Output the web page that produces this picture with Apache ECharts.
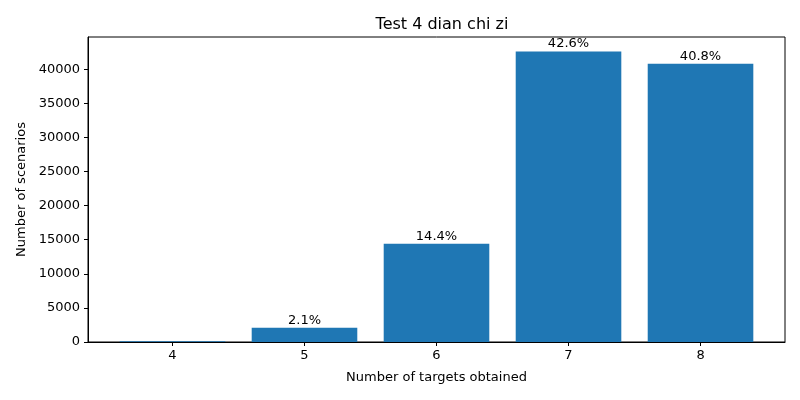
<!DOCTYPE html>
<html><head><meta charset="utf-8">
<script src="https://cdn.jsdelivr.net/npm/echarts@6/dist/echarts.min.js"></script>
<style>html,body{margin:0;padding:0;background:#fff}#c{width:800px;height:400px}</style>
</head><body><div id="c"></div>
<script>
const categories = [4, 5, 6, 7, 8];
const counts = [100, 2100, 14400, 42600, 40800];
const pctLabels = ['', '2.1%', '14.4%', '42.6%', '40.8%'];
const yTicks = [0, 5000, 10000, 15000, 20000, 25000, 30000, 35000, 40000];

const font = 'DejaVu Sans';
const chart = echarts.init(document.getElementById('c'));
chart.setOption({
  animation: false,
  title: { text: 'Test 4 dian chi zi', left: 437, top: 12, textAlign: 'center',
    textStyle: { fontFamily: font, fontSize: 16, fontWeight: 'normal', color: '#000' } },
  grid: { left: 88, right: 15, top: 37, bottom: 58, show: true, borderColor: '#000', borderWidth: 1 },
  xAxis: {
    type: 'value', min: 3.36, max: 8.64,
    name: 'Number of targets obtained', nameLocation: 'middle', nameGap: 29,
    nameTextStyle: { fontFamily: font, fontSize: 13, color: '#000' },
    axisLine: { lineStyle: { color: '#000' } },
    axisTick: { show: true, length: 4, lineStyle: { color: '#000' }, customValues: categories },
    axisLabel: { fontFamily: font, fontSize: 13, color: '#000', margin: 7, customValues: categories },
    splitLine: { show: false }
  },
  yAxis: {
    type: 'value', min: 0, max: 44730,
    name: 'Number of scenarios', nameLocation: 'middle', nameGap: 57,
    nameTextStyle: { fontFamily: font, fontSize: 13, color: '#000' },
    axisLine: { show: true, lineStyle: { color: '#000' } },
    axisTick: { show: true, length: 4, lineStyle: { color: '#000' }, customValues: yTicks },
    axisLabel: { fontFamily: font, fontSize: 13, color: '#000', margin: 8, customValues: yTicks,
      formatter: v => String(v) },
    splitLine: { show: false }
  },
  series: [{
    type: 'bar',
    barWidth: 105.6,
    itemStyle: { color: '#1f77b4' },
    data: categories.map((c, i) => ({ value: [c, counts[i]], label: { formatter: pctLabels[i] } })),
    label: { show: true, position: 'top', distance: 1, fontFamily: font, fontSize: 13, color: '#000' }
  }]
});
</script></body></html>
